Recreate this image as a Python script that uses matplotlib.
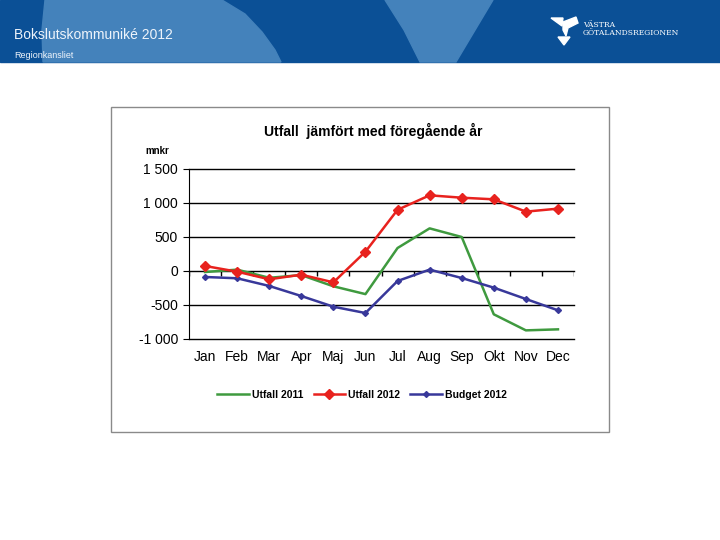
import numpy as np
import matplotlib.pyplot as plt
from matplotlib.patches import Rectangle, Polygon

months = ["Jan", "Feb", "Mar", "Apr", "Maj", "Jun", "Jul", "Aug", "Sep", "Okt", "Nov", "Dec"]
utfall_2011 = [-15, 20, -100, -60, -225, -340, 338, 627, 500, -637, -873, -858]
utfall_2012 = [74, -10, -122, -54, -167, 284, 900, 1113, 1078, 1054, 873, 917]
budget_2012 = [-88, -107, -220, -368, -525, -618, -147, 20, -103, -245, -412, -578]
yticks = [-1000, -500, 0, 500, 1000, 1500]
ytick_labels = ["-1 000", "-500", "0", "500", "1 000", "1 500"]

W, H = 720, 540
fig = plt.figure(figsize=(7.2, 5.4), dpi=100)
fig.patch.set_facecolor("white")

# header band (pixel coords)
bg = fig.add_axes([0, 0, 1, 1])
bg.set_xlim(0, W)
bg.set_ylim(H, 0)
bg.axis("off")
dark = "#0b5096"
light = "#4482bb"
bg.add_patch(Rectangle((0, 0), W, 62, color=dark, zorder=0))
bg.add_patch(Polygon([[45, 0], [222, 0], [245, 14], [262, 32], [275, 50], [281, 62],
                      [43, 62], [42, 30]], color=light, zorder=1))
bg.add_patch(Polygon([[385, 0], [493, 0], [456, 62], [420, 62], [404, 30]], color=light, zorder=1))
bg.text(14, 35, "Bokslutskommuniké 2012", color="#eef4fb", fontsize=10,
        family="Liberation Sans", va="center", zorder=3)
bg.text(14, 55, "Regionkansliet", color="#eef4fb", fontsize=6.5,
        family="Liberation Sans", va="center", zorder=3)
bg.add_patch(Polygon([[551, 18], [563, 18], [562, 26]], color="white", zorder=3))
bg.add_patch(Polygon([[563, 22], [576, 17], [578, 23], [568, 28], [566, 36], [563, 30]],
                     color="white", zorder=3))
bg.add_patch(Polygon([[558, 37], [570, 37], [564, 45]], color="white", zorder=3))
bg.text(583, 25, "VÄSTRA", color="white", fontsize=5.5, family="DejaVu Serif",
        va="center", zorder=3)
bg.text(583, 33, "GÖTALANDSREGIONEN", color="white", fontsize=5.5,
        family="DejaVu Serif", va="center", zorder=3)

# chart frame
bg.add_patch(Rectangle((111, 107), 498, 325, fill=False, ec="#8a8a8a", lw=1, zorder=3))
bg.text(373, 131, "Utfall  jämfört med föregående år", fontsize=10, fontweight="bold",
        family="Liberation Sans", ha="center", va="center", zorder=3)
bg.text(145, 151, "mnkr", fontsize=7, fontweight="bold", family="Liberation Sans",
        va="center", zorder=3)

ax = fig.add_axes([189 / W, 1 - 339 / H, (574 - 189) / W, (339 - 169) / H])
ax.patch.set_alpha(0)
x = np.arange(len(months))
ax.plot(x, utfall_2011, color="#3f9a3f", lw=1.8, label="Utfall 2011", zorder=4)
ax.plot(x, utfall_2012, color="#e8221e", lw=1.8, marker="D", ms=5.5, label="Utfall 2012", zorder=5)
ax.plot(x, budget_2012, color="#38389a", lw=1.8, marker="D", ms=3, label="Budget 2012", zorder=4)

ax.set_xlim(-0.5, len(months) - 0.5)
ax.set_ylim(-1000, 1500)
ax.set_yticks(yticks)
ax.set_yticklabels(ytick_labels, family="Liberation Sans", fontsize=10)
for yv in yticks:
    ax.axhline(yv, color="black", lw=1, zorder=2, clip_on=False)
ax.set_xticks(x)
ax.set_xticklabels(months, family="Liberation Sans", fontsize=10)
ax.tick_params(axis="x", length=0, pad=8)
ax.tick_params(axis="y", length=4, direction="out", pad=4)
bounds = np.arange(len(months) + 1) - 0.5
ax.vlines(bounds, -70, 0, color="black", lw=1, zorder=2)
for s in ["top", "right", "bottom"]:
    ax.spines[s].set_visible(False)
ax.spines["left"].set_color("black")

leg = fig.legend(loc="center", bbox_to_anchor=(362 / W, 1 - 395 / H), ncol=3, frameon=False,
                 prop={"family": "Liberation Sans", "weight": "bold", "size": 7.5},
                 handlelength=3, columnspacing=1.0, handletextpad=0.3)

fig.savefig("out.png", dpi=100)
